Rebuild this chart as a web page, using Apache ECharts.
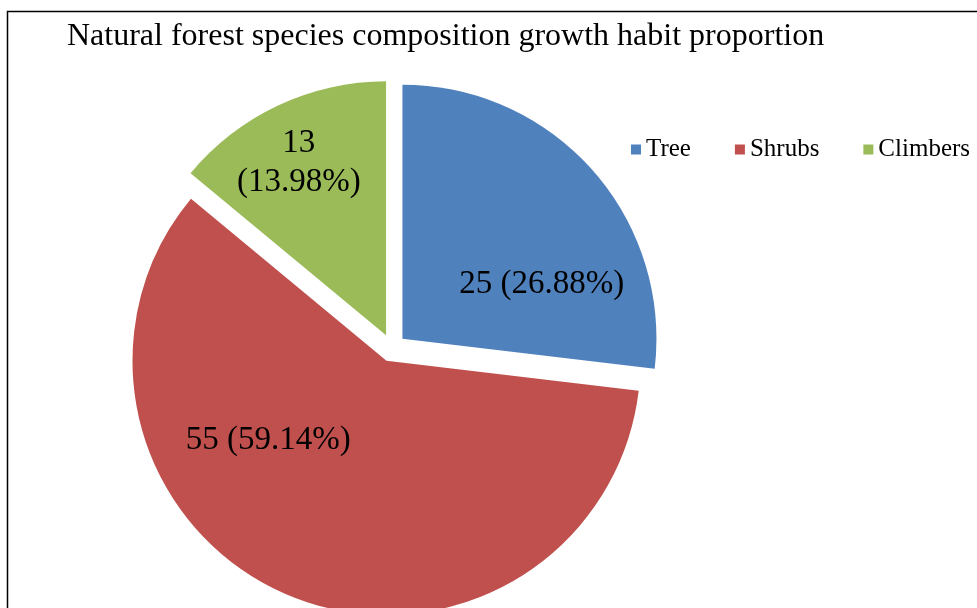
<!DOCTYPE html>
<html>
<head>
<meta charset="utf-8">
<script src="https://cdn.jsdelivr.net/npm/echarts@6/dist/echarts.min.js"></script>
<style>
html,body{margin:0;padding:0;background:#fff;}
#main{width:977px;height:608px;}
</style>
</head>
<body>
<div id="main"></div>
<script>
const titleText = 'Natural forest species composition growth habit proportion';
const categories = ['Tree', 'Shrubs', 'Climbers'];
const values = [25, 55, 13];
const colors = ['#4F81BD', '#C0504D', '#9BBB59'];
// label nudges relative to ECharts' default inside position
const labelShift = [[42, 32], [-67, -40], [-32, -55]];

const serif = 'Liberation Serif';
const chart = echarts.init(document.getElementById('main'), null, {renderer: 'canvas'});
chart.setOption({
  animation: false,
  backgroundColor: '#fff',
  title: {
    text: titleText,
    left: 62, top: 16,
    textStyle: {fontFamily: serif, fontSize: 32, fontWeight: 'normal', color: '#000'}
  },
  graphic: [{
    type: 'rect', left: 5, top: 9, silent: true,
    shape: {width: 1000, height: 620},
    style: {fill: 'none', stroke: '#000', lineWidth: 1.5}
  }],
  legend: {
    data: categories,
    left: 626, top: 132,
    icon: 'rect', itemWidth: 10, itemHeight: 10, itemGap: 44,
    textStyle: {fontFamily: serif, fontSize: 25, color: '#000'}
  },
  series: [{
    type: 'pie',
    center: [392, 348],
    radius: [0, 254],
    startAngle: 90,
    clockwise: true,
    selectedMode: 'multiple',
    selectedOffset: 14,
    percentPrecision: 2,
    label: {
      show: true, position: 'inside',
      fontFamily: serif, fontSize: 33, color: '#000', lineHeight: 39,
      formatter: function (p) {
        return p.dataIndex === 2 ? p.value + '\n(' + p.percent.toFixed(2) + '%)'
                                 : p.value + ' (' + p.percent.toFixed(2) + '%)';
      }
    },
    labelLayout: function (p) {
      const s = labelShift[p.dataIndex];
      return {dx: s[0], dy: s[1]};
    },
    labelLine: {show: false},
    emphasis: {disabled: true},
    data: categories.map((c, i) => ({
      name: c, value: values[i], selected: true,
      itemStyle: {color: colors[i]}
    }))
  }]
});
</script>
</body>
</html>
